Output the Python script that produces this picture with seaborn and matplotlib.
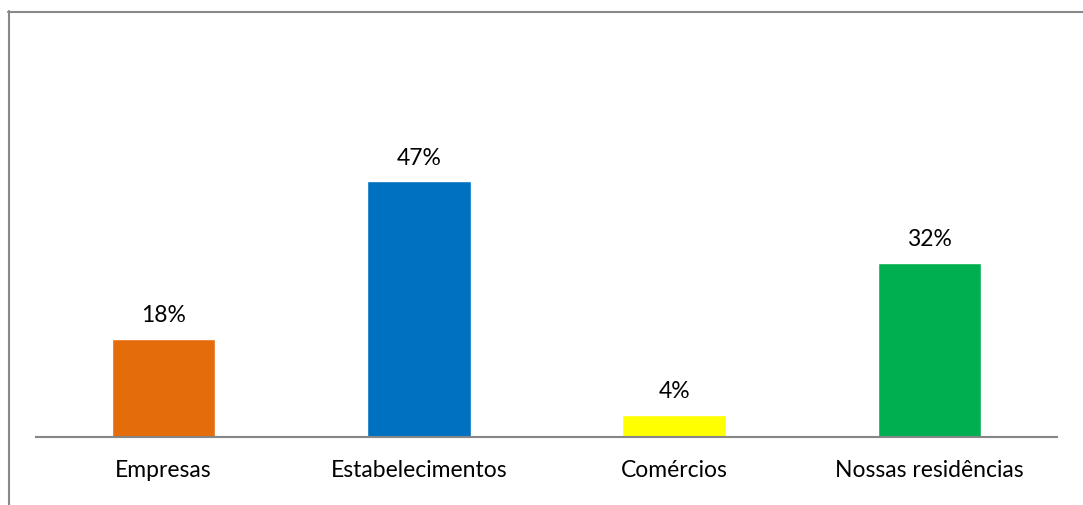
import matplotlib
matplotlib.use("Agg")
import matplotlib.pyplot as plt
from matplotlib.lines import Line2D
import seaborn as sns
import pandas as pd

categories = ["Empresas", "Estabelecimentos", "Comércios", "Nossas residências"]
values = [18, 47, 4, 32]
labels = ["18%", "47%", "4%", "32%"]
colors = ["#E46C0A", "#0070C0", "#FFFF00", "#00B050"]

sns.set_theme(style="white")
plt.rcParams["font.family"] = ["Lato", "DejaVu Sans"]

W, H = 1083, 506
fig = plt.figure(figsize=(W / 100, H / 100), dpi=100)
ax = fig.add_axes([36 / W, (H - 438) / H, (1057 - 36) / W, (438 - 166) / H])

df = pd.DataFrame({"cat": categories, "val": values})
sns.barplot(data=df, x="cat", y="val", hue="cat", palette=colors,
            width=0.405, legend=False, ax=ax, saturation=1)

ax.set_ylim(0, 50)
ax.set_xlim(-0.5, 3.5)
ax.set_xlabel("")
ax.set_ylabel("")
ax.set_yticks([])
for s in ["top", "right", "left"]:
    ax.spines[s].set_visible(False)
ax.spines["bottom"].set_color("#868686")
ax.spines["bottom"].set_linewidth(1.5)
ax.tick_params(axis="x", length=0, pad=16, labelsize=16.5, colors="#000000")

for i, (v, t) in enumerate(zip(values, labels)):
    ax.annotate(t, xy=(i, v), xytext=(0, 17.5), textcoords="offset points",
                ha="center", va="center", fontsize=16.5, color="#000000")

# chart frame (top and left edges)
fig.add_artist(Line2D([8 / W, 1.0], [(H - 12.5) / H, (H - 12.5) / H],
                      transform=fig.transFigure, color="#888888", lw=1.5))
fig.add_artist(Line2D([8.5 / W, 8.5 / W], [0.0, (H - 12) / H],
                      transform=fig.transFigure, color="#888888", lw=1.5))

fig.savefig("out.png", dpi=100, facecolor="white")
